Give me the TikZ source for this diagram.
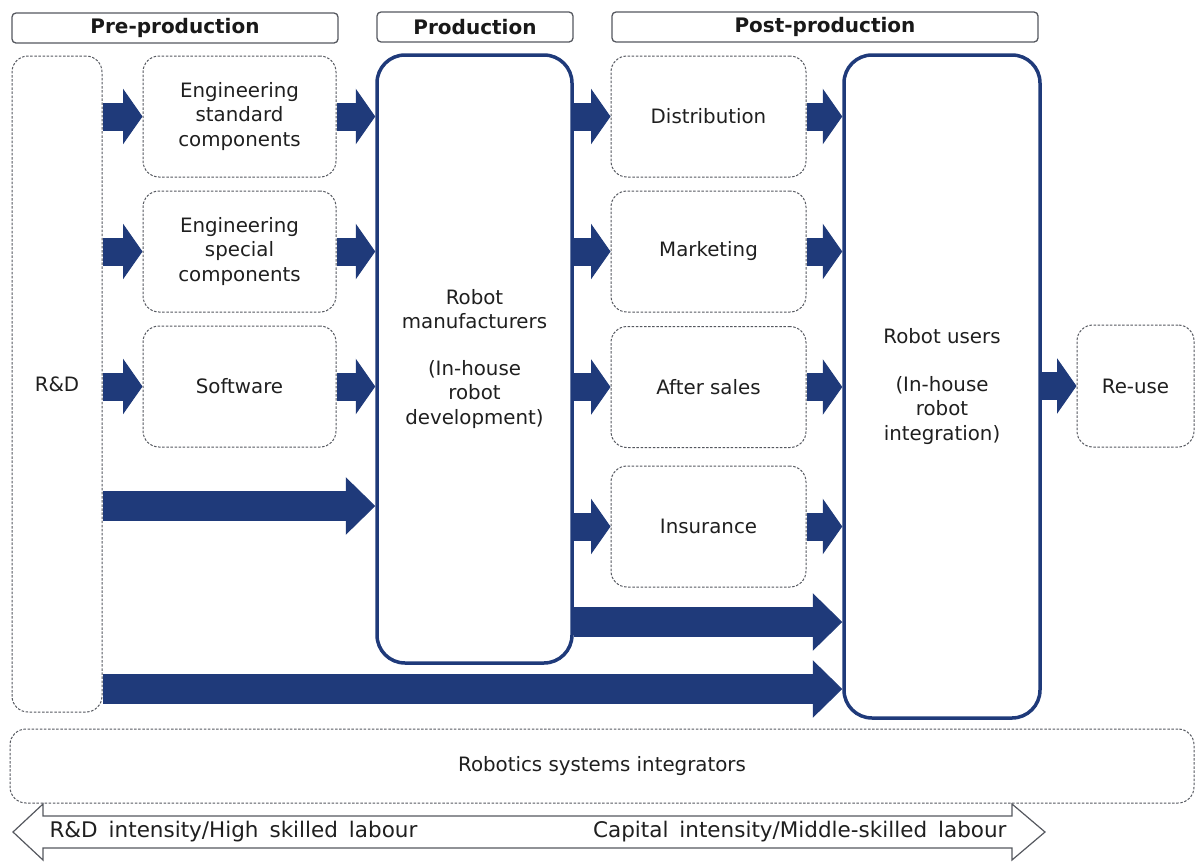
\documentclass[tikz,border=0pt]{standalone}
\usepackage{fontspec}
\setmainfont{DejaVu Sans}
\newfontfamily\widefont[WordSpace=1.6]{DejaVu Sans}
\usetikzlibrary{arrows.meta}
\definecolor{navy}{HTML}{1F3A7A}
\definecolor{rim}{HTML}{55585F}
\tikzset{
  lbl/.style={font=\fontsize{19.8}{24.5}\selectfont, text=black!88, align=center},
  phase/.style={draw=rim, line width=1.3pt, rounded corners=4pt, inner sep=0pt,
    font=\bfseries\fontsize{20}{24}\selectfont, text=black!90},
  dbox/.style={lbl, draw=rim, dash pattern=on 2.5pt off 1.6pt, line width=1pt,
    rounded corners=16pt, inner sep=0pt},
  tbox/.style={lbl, draw=navy, line width=3.5pt, rounded corners=28pt, inner sep=0pt},
  intensity/.style={font=\widefont\fontsize{21.5}{24}\selectfont, text=black!88},
  flow/.style={navy, line width=28pt, -{Triangle[length=19.5pt,width=55.5pt,line width=1pt]}},
  bigflow/.style={navy, line width=30pt, -{Triangle[length=29.5pt,width=57.5pt,line width=1pt]}},
}
\newcommand{\conn}[2]{\draw[flow] (#1) -- (#2);}
\newcommand{\bigconn}[2]{\draw[bigflow] (#1) -- (#2);}

\begin{document}
\begin{tikzpicture}[x=1pt,y=-1pt]
  \useasboundingbox (0,0) rectangle (1195,863);

  % stage headers
  \node[phase, minimum width=326, minimum height=30] (preprod) at (175,28) {Pre-production};
  \node[phase, minimum width=196, minimum height=30] (prod) at (475,27) {Production};
  \node[phase, minimum width=426, minimum height=30] (postprod) at (825,27) {Post-production};

  % pre-production
  \node[dbox, minimum width=90, minimum height=656] (rd) at (57,384) {R\&D};
  \node[dbox, minimum width=193, minimum height=121] (engstd) at (239.5,116.5)
    {Engineering\\standard\\components};
  \node[dbox, minimum width=193, minimum height=121] (engspec) at (239.5,251.5)
    {Engineering\\special\\components};
  \node[dbox, minimum width=193, minimum height=121] (software) at (239.5,386.5) {Software};

  % production
  \node[tbox, minimum width=195, minimum height=608] (robman) at (474.5,359)
    {Robot\\manufacturers\\[22pt](In-house\\robot\\development)};

  % post-production
  \node[dbox, minimum width=195, minimum height=121] (distrib) at (708.5,116.5) {Distribution};
  \node[dbox, minimum width=195, minimum height=121] (marketing) at (708.5,251.5) {Marketing};
  \node[dbox, minimum width=195, minimum height=121] (aftersales) at (708.5,387) {After sales};
  \node[dbox, minimum width=195, minimum height=121] (insurance) at (708.5,526.5) {Insurance};
  \node[tbox, minimum width=196, minimum height=663] (robusers) at (942,386.5)
    {Robot users\\[23pt](In-house\\robot\\integration)};
  \node[dbox, minimum width=117, minimum height=122] (reuse) at (1135.5,386) {Re-use};

  % integrators band
  \node[dbox, minimum width=1184, minimum height=74] (integrators) at (602,766)
    {Robotics systems integrators};

  % flows
  \conn{rd.east |- engstd.west}{engstd.west}
  \conn{rd.east |- engspec.west}{engspec.west}
  \conn{rd.east |- software.west}{software.west}
  \conn{engstd.east}{engstd.east -| robman.west}
  \conn{engspec.east}{engspec.east -| robman.west}
  \conn{software.east}{software.east -| robman.west}
  \conn{robman.east |- distrib.west}{distrib.west}
  \conn{robman.east |- marketing.west}{marketing.west}
  \conn{robman.east |- aftersales.west}{aftersales.west}
  \conn{robman.east |- insurance.west}{insurance.west}
  \conn{distrib.east}{distrib.east -| robusers.west}
  \conn{marketing.east}{marketing.east -| robusers.west}
  \conn{aftersales.east}{aftersales.east -| robusers.west}
  \conn{insurance.east}{insurance.east -| robusers.west}
  \conn{robusers.east |- reuse.west}{reuse.west}

  % long flows
  \coordinate (lane1) at (0,506);
  \coordinate (lane2) at (0,622);
  \coordinate (lane3) at (0,689);
  \bigconn{rd.east |- lane1}{robman.west |- lane1}
  \bigconn{robman.east |- lane2}{robusers.west |- lane2}
  \bigconn{rd.east |- lane3}{robusers.west |- lane3}

  % intensity scale
  \draw[draw=rim, line width=1.2pt, fill=white]
    (13,832) -- (43,804) -- (43,816) -- (1012,816) -- (1012,804) -- (1045,832)
    -- (1012,860) -- (1012,848) -- (43,848) -- (43,860) -- cycle;
  \node[intensity, anchor=west] (rdint) at (46,832) {R\&D intensity/High skilled labour};
  \node[intensity, anchor=east] (capint) at (1010,832) {Capital intensity/Middle-skilled labour};
\end{tikzpicture}
\end{document}
